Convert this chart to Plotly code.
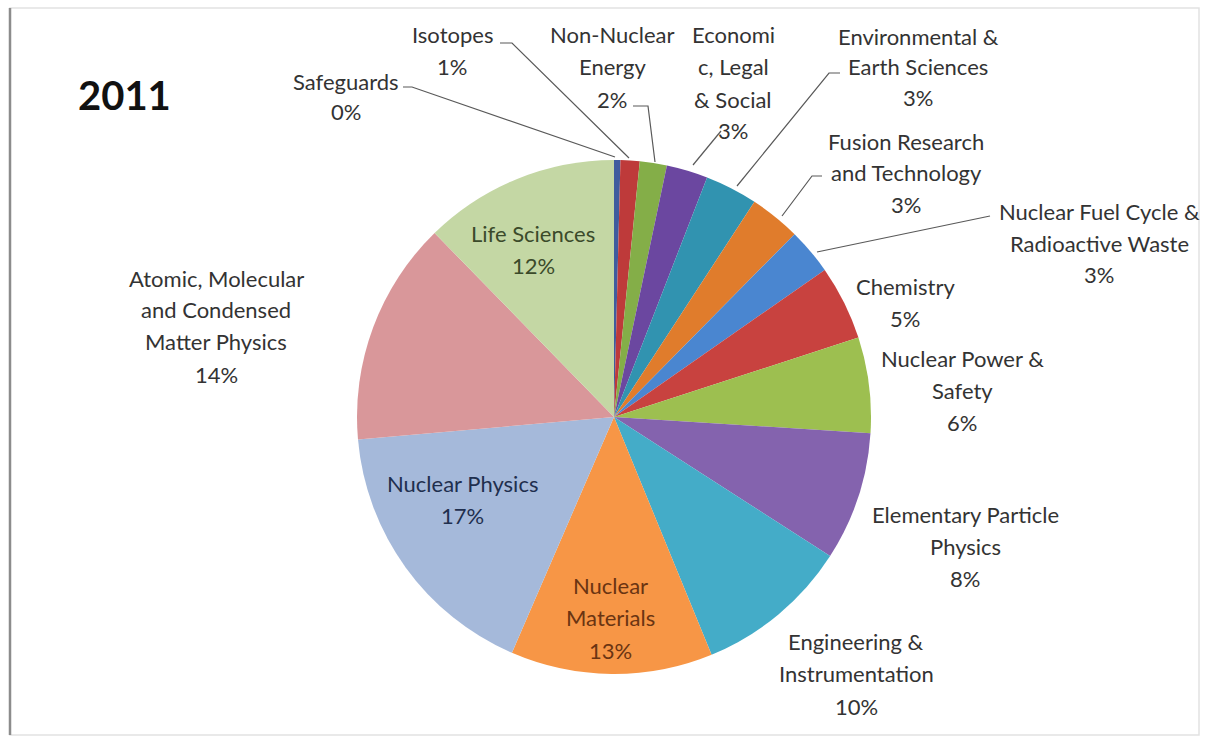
import plotly.graph_objects as go

# ---------------- data ----------------
categories = [
    "Safeguards", "Isotopes", "Non-Nuclear Energy", "Economic, Legal & Social",
    "Environmental & Earth Sciences", "Fusion Research and Technology",
    "Nuclear Fuel Cycle & Radioactive Waste", "Chemistry", "Nuclear Power & Safety",
    "Elementary Particle Physics", "Engineering & Instrumentation", "Nuclear Materials",
    "Nuclear Physics", "Atomic, Molecular and Condensed Matter Physics", "Life Sciences",
]
values = [0.4, 1.2, 1.7, 2.6, 3.3, 3.2, 2.9, 4.7, 6.0, 8.1, 9.7, 12.7, 17.1, 14.1, 12.3]
colors = [
    "#3F5C9E", "#BE3A3A", "#84AE48", "#6B47A0", "#3193B0", "#E07C2C",
    "#4A86D0", "#C8423F", "#9DBF50", "#8463AE", "#44ACC8", "#F79646",
    "#A5B9DA", "#D9979A", "#C4D7A4",
]
title_text = "2011"

# ---------------- layout helpers ----------------
W, H = 1206, 739
CX, CY, R = 614, 417, 257

# label line wrapping / placement (pixels): (center x, line y's, text lines)
label_layout = [
    (346, [81, 112], ["Safeguards"]),
    (452, [35, 67], ["Isotopes"]),
    (612, [35, 67, 99], ["Non-Nuclear", "Energy"]),
    (733, [35, 67, 99, 130], ["Economi", "c, Legal", "& Social"]),
    (918, [36, 66, 97], ["Environmental &", "Earth Sciences"]),
    (906, [141, 172, 204], ["Fusion Research", "and Technology"]),
    (1099, [211, 243, 274], ["Nuclear Fuel Cycle &", "Radioactive Waste"]),
    (905, [286, 318], ["Chemistry"]),
    (962, [358, 390, 422], ["Nuclear Power &", "Safety"]),
    (965, [514, 546, 578], ["Elementary Particle", "Physics"]),
    (856, [641, 673, 706], ["Engineering &", "Instrumentation"]),
    (610, [585, 617, 650], ["Nuclear", "Materials"]),
    (462, [483, 515], ["Nuclear Physics"]),
    (216, [278, 310, 342, 374], ["Atomic, Molecular", "and Condensed", "Matter Physics"]),
    (533, [233, 265], ["Life Sciences"]),
]
text_colors = {11: "#6A3412", 12: "#1F2F4E", 14: "#3B4A2A"}
leaders = {
    0: [(403, 87), (412, 87), (615, 157)],
    1: [(500, 43), (512, 43), (629, 158)],
    2: [(633, 106), (648, 106), (655, 162)],
    3: [(721, 131), (693, 165)],
    4: [(840, 73), (829, 73), (737, 186)],
    5: [(822, 176), (812, 176), (782, 216)],
    6: [(990, 216), (817, 252)],
}

def px(x):
    return x / W

def py(y):
    return 1 - y / H

FONT = "Lato, 'Open Sans', sans-serif"
total = sum(values)

fig = go.Figure(go.Pie(
    labels=categories,
    values=values,
    sort=False,
    direction="clockwise",
    rotation=0,
    marker=dict(colors=colors, line=dict(width=0)),
    textinfo="none",
    hoverinfo="label+percent",
    showlegend=False,
    domain=dict(x=[px(CX - R), px(CX + R)], y=[py(CY + R), py(CY - R)]),
))

annotations = []
for i, (cx, ys, lines) in enumerate(label_layout):
    pct = f"{round(values[i] / total * 100)}%"
    all_lines = lines + [pct]
    col = text_colors.get(i, "#333333")
    for y, t in zip(ys, all_lines):
        annotations.append(dict(
            x=px(cx), y=py(y), xref="paper", yref="paper", text=t,
            showarrow=False, xanchor="center", yanchor="middle",
            font=dict(family=FONT, size=22, color=col),
        ))

annotations.append(dict(
    x=px(124), y=py(95), xref="paper", yref="paper", text=f"<b>{title_text}</b>",
    showarrow=False, xanchor="center", yanchor="middle",
    font=dict(family=FONT, size=40, color="#111111"),
))

shapes = []
for pts in leaders.values():
    path = "M " + " L ".join(f"{px(x)},{py(y)}" for x, y in pts)
    shapes.append(dict(type="path", path=path, xref="paper", yref="paper",
                       line=dict(color="#595959", width=1.2)))

# frame
shapes.append(dict(type="rect", x0=px(10), x1=px(1199), y0=py(735), y1=py(8),
                   xref="paper", yref="paper", line=dict(color="#E2E2E2", width=1.5)))
shapes.append(dict(type="line", x0=px(10), x1=px(10), y0=py(735), y1=py(8),
                   xref="paper", yref="paper", line=dict(color="#8C8C8C", width=2.5)))

fig.update_layout(
    width=W, height=H,
    margin=dict(l=0, r=0, t=0, b=0),
    paper_bgcolor="white", plot_bgcolor="white",
    annotations=annotations,
    shapes=shapes,
)

fig.write_html(
    "out.html",
    config={"displayModeBar": False},
    post_script="document.body.style.margin='0';document.body.style.overflow='hidden';",
)
